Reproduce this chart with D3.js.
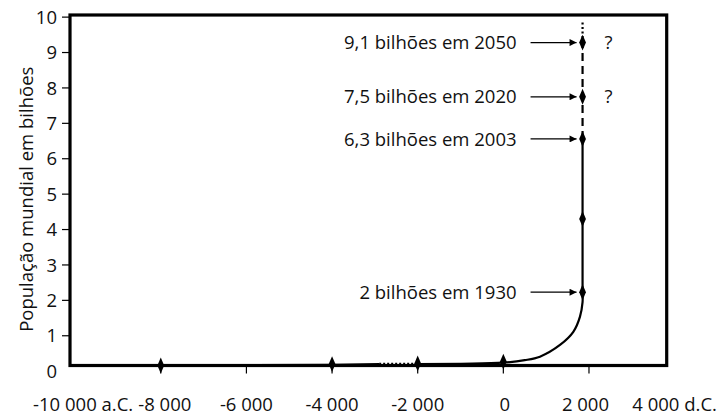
<!DOCTYPE html>
<html><head><meta charset="utf-8">
<script src="https://cdn.jsdelivr.net/npm/d3@7"></script>
<style>
html,body{margin:0;padding:0;background:#fff;}
svg{display:block;font-family:"Open Sans",sans-serif;}
</style></head>
<body>
<svg id="chart" width="718" height="415"></svg>
<script>
// ---- data ----
const xTickValues = [-8000, -6000, -4000, -2000, 0, 2000];
const xLabelValues = [-10000, -8000, -6000, -4000, -2000, 0, 2000, 4000];
const xLabelTexts = ["-10 000 a.C.", "-8 000", "-6 000", "-4 000", "-2 000", "0", "2 000", "4 000 d.C."];
const yTickValues = [1, 2, 3, 4, 5, 6, 7, 8, 9, 10];
const yLabelValues = [0, 1, 2, 3, 4, 5, 6, 7, 8, 9, 10];
const yTitle = "População mundial em bilhões";

// population curve (year, billions) as drawn
const baseYears = [-8000, -4000, -2900];
const baseValues = [0.16, 0.18, 0.2];
const gapYears = [-2900, -2000];
const gapValues = [0.21, 0.21];
const riseYears = [-2000, 0, 500, 855, 1323, 1634, 1790, 1850, 1850, 1850, 1850];
const riseValues = [0.2, 0.24, 0.31, 0.41, 0.74, 1.11, 1.54, 1.95, 2.23, 4.3, 6.56];
const projYears = [1850, 1850, 1850];
const projValues = [6.56, 7.75, 9.28];
const tailYears = [1850, 1850];
const tailValues = [9.28, 9.9];

// diamond markers
const markerYears = [-8000, -4000, -2000, 0, 1850, 1850, 1850, 1850, 1850];
const markerValues = [0.16, 0.2, 0.22, 0.27, 2.23, 4.3, 6.56, 7.75, 9.28];

// annotations
const noteTexts = ["9,1 bilhões em 2050", "7,5 bilhões em 2020", "6,3 bilhões em 2003", "2 bilhões em 1930"];
const noteYears = [1850, 1850, 1850, 1850];
const noteValues = [9.28, 7.75, 6.56, 2.23];
const questionValues = [9.28, 7.75];

// ---- scales ----
const xDomain = [-10120, 3815];
const yDomain = [0.16, 10.06];
const x = d3.scaleLinear().domain(xDomain).range([70, 666.7]);
const y = d3.scaleLinear().domain(yDomain).range([365.5, 15]);

const svg = d3.select("#chart");
const ink = "#000";
const fs = 18.5;

// arrow marker
svg.append("defs").append("marker")
  .attr("id", "arr").attr("viewBox", "0 0 10 10").attr("refX", 10).attr("refY", 5)
  .attr("markerWidth", 10).attr("markerHeight", 7).attr("markerUnits", "userSpaceOnUse")
  .attr("orient", "auto")
  .append("path").attr("d", "M0,0L10,5L0,10Z").attr("fill", ink);

// y ticks & labels
svg.append("g").selectAll("line").data(yTickValues).join("line")
  .attr("x1", x(xDomain[0]) - 8).attr("x2", x(xDomain[0]))
  .attr("y1", d => y(d)).attr("y2", d => y(d))
  .attr("stroke", ink).attr("stroke-width", 1.2);
svg.append("g").selectAll("text").data(yLabelValues).join("text")
  .attr("x", x(xDomain[0]) - 13).attr("y", d => y(d))
  .attr("dy", "0.36em").attr("text-anchor", "end")
  .attr("font-size", fs).attr("fill", "#111").text(d => d);

// x ticks & labels
svg.append("g").selectAll("line").data(xTickValues).join("line")
  .attr("x1", d => x(d)).attr("x2", d => x(d))
  .attr("y1", y(yDomain[0])).attr("y2", y(yDomain[0]) + 8)
  .attr("stroke", ink).attr("stroke-width", 1.2);
const xNudge = {"-10000": 8, "-8000": 4, "0": 1.5, "2000": -3.5};
svg.append("g").selectAll("text").data(xLabelValues).join("text")
  .attr("x", d => x(d) + (xNudge[d] || 0)).attr("y", 411)
  .attr("text-anchor", "middle")
  .attr("font-size", fs).attr("fill", "#111")
  .text((d, i) => xLabelTexts[i]);

// y title
svg.append("text")
  .attr("transform", `translate(33,${(y(yDomain[0]) + y(yDomain[1])) / 2 + 9}) rotate(-90)`)
  .attr("text-anchor", "middle").attr("font-size", fs).attr("fill", "#111")
  .text(yTitle);

// frame
svg.append("rect")
  .attr("x", x(xDomain[0])).attr("y", y(yDomain[1]))
  .attr("width", x(xDomain[1]) - x(xDomain[0]))
  .attr("height", y(yDomain[0]) - y(yDomain[1]))
  .attr("fill", "none").attr("stroke", ink).attr("stroke-width", 3.2);

// lines
const lin = d3.line().x(d => x(d[0])).y(d => y(d[1]));
const curved = d3.line().x(d => x(d[0])).y(d => y(d[1])).curve(d3.curveCatmullRom.alpha(0.5));
const zip = (a, b) => a.map((v, i) => [v, b[i]]);

svg.append("path").attr("d", lin(zip(baseYears, baseValues)))
  .attr("fill", "none").attr("stroke", ink).attr("stroke-width", 2.2);
svg.append("path").attr("d", lin(zip(gapYears, gapValues)))
  .attr("fill", "none").attr("stroke", ink).attr("stroke-width", 2)
  .attr("stroke-dasharray", "2,2");
svg.append("path").attr("d", curved(zip(riseYears, riseValues)))
  .attr("fill", "none").attr("stroke", ink).attr("stroke-width", 2.2);
svg.append("path").attr("d", lin(zip(projYears, projValues)))
  .attr("fill", "none").attr("stroke", ink).attr("stroke-width", 2.2)
  .attr("stroke-dasharray", "8,5");
svg.append("path").attr("d", lin(zip(tailYears, tailValues)))
  .attr("fill", "none").attr("stroke", ink).attr("stroke-width", 2.2)
  .attr("stroke-dasharray", "2,2.5");

// markers
svg.append("g").selectAll("path").data(markerYears).join("path")
  .attr("transform", (d, i) => `translate(${x(d)},${y(markerValues[i])}) scale(0.85,1.15)`)
  .attr("d", d3.symbol(d3.symbolDiamond, 55)())
  .attr("fill", ink);

// annotations
const notes = svg.append("g");
noteTexts.forEach((t, i) => {
  const px = x(noteYears[i]), py = y(noteValues[i]);
  notes.append("line")
    .attr("x1", px - 52).attr("x2", px - 6).attr("y1", py).attr("y2", py)
    .attr("stroke", ink).attr("stroke-width", 1.2).attr("marker-end", "url(#arr)");
  notes.append("text")
    .attr("x", px - 66).attr("y", py).attr("dy", "0.36em")
    .attr("text-anchor", "end").attr("font-size", fs).attr("fill", "#111").text(t);
});
svg.append("g").selectAll("text").data(questionValues).join("text")
  .attr("x", x(noteYears[0]) + 26).attr("y", d => y(d)).attr("dy", "0.36em")
  .attr("text-anchor", "middle").attr("font-size", fs).attr("fill", "#111").text("?");
</script>
</body></html>
